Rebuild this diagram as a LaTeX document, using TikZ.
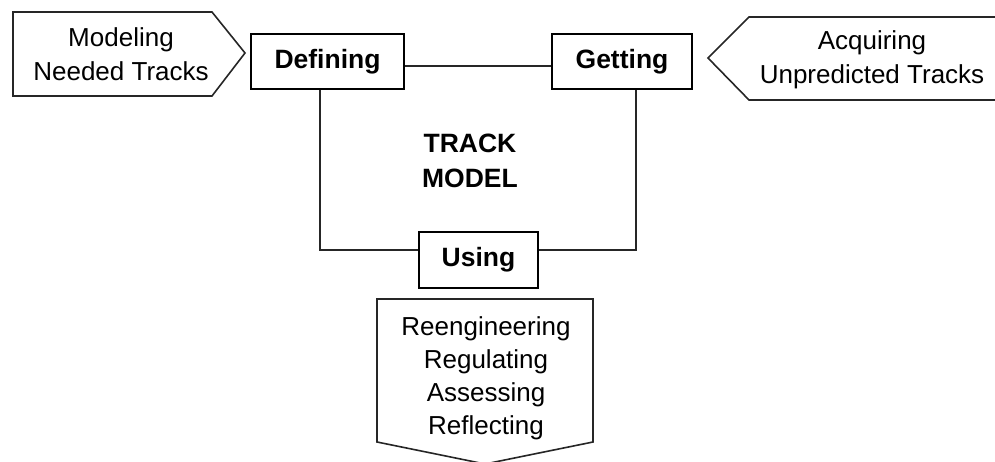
\documentclass[tikz,border=0pt]{standalone}
\usepackage{fontspec}
\setmainfont{Liberation Sans}
\newcommand{\stagefont}{\fontsize{26.5}{35}\selectfont\bfseries}
\newcommand{\notefont}{\fontsize{26}{34}\selectfont}

\begin{document}
\begin{tikzpicture}[x = 1pt, y = -1pt,   % Pixel-Koordinaten, y nach unten
    stage/.style = {draw = black, line width = 1.6pt, fill = white, inner sep = 0pt,
                    minimum height = 55pt, font = \stagefont},
    note/.style  = {align = center, inner sep = 0pt, font = \notefont},
    link/.style  = {draw = black!85, line width = 1.6pt}]
  % Bounding box
  \useasboundingbox (0, 0) rectangle (995, 462);
  % Pfeile aussen
  \draw [link, line join = miter] (13, 12) -- (212, 12) -- (245, 53) -- (212, 96) -- (13, 96) -- cycle;
  \node [note] (needed) at (121, 54) {Modeling\\Needed Tracks};
  \draw [link, line join = miter] (1000, 17) -- (749, 17) -- (708, 58) -- (749, 100) -- (1000, 100) -- cycle;
  \node [note] (unpred) at (872, 60) {Acquiring\\Unpredicted Tracks};
  \draw [link, line join = miter] (377, 299) -- (593, 299) -- (593, 442) -- (485, 464) -- (377, 442) -- cycle;
  \node [note, font = \fontsize{26}{33}\selectfont] (uses) at (486, 378) {Reengineering\\Regulating\\Assessing\\Reflecting};
  % Kasten
  \node [stage, minimum width = 153pt] (defining) at (327.5, 61.5) {Defining};
  \node [stage, minimum width = 140pt] (getting)  at (622, 61.5)   {Getting};
  \node [stage, minimum width = 119pt, minimum height = 56pt] (using) at (478.5, 260) {Using};
  % Linien
  \draw [link] ([yshift = -4.5pt]defining.east) -- ([yshift = -4.5pt]getting.west);
  \draw [link] ([xshift = -7.5pt]defining.south) |- ([yshift = 10pt]using.west);
  \draw [link] ([xshift = 14pt]getting.south) |- ([yshift = 10pt]using.east);
  % Mitte
  \node [note, font = \stagefont] (model) at (470, 161) {TRACK\\MODEL};
\end{tikzpicture}
\end{document}
